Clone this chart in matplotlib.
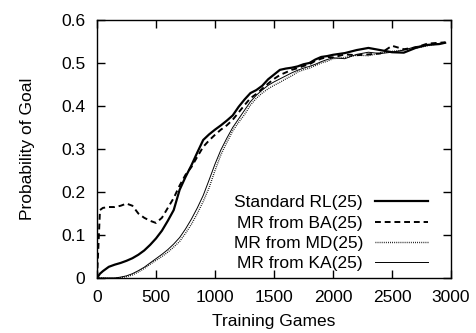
import matplotlib
matplotlib.use('Agg')
import matplotlib.pyplot as plt
from matplotlib import ticker

plt.rcParams['font.family'] = ['Liberation Sans', 'DejaVu Sans']
plt.rcParams['font.size'] = 12.5

games = [0, 25, 50, 100, 150, 200, 250, 300, 350, 400, 450, 500, 550, 600, 650, 700,
         750, 800, 850, 900, 950, 1000, 1050, 1100, 1150, 1200, 1250, 1300, 1350, 1400,
         1450, 1500, 1550, 1600, 1650, 1700, 1750, 1800, 1850, 1900, 1950, 2000, 2100,
         2200, 2300, 2400, 2500, 2600, 2700, 2800, 2900, 2950]

standard_rl = [0.0, 0.010, 0.016, 0.026, 0.031, 0.035, 0.040, 0.046, 0.054, 0.064, 0.077,
               0.092, 0.110, 0.133, 0.158, 0.205, 0.235, 0.262, 0.292, 0.321, 0.334, 0.345,
               0.355, 0.366, 0.378, 0.398, 0.415, 0.430, 0.437, 0.447, 0.462, 0.473, 0.484,
               0.487, 0.489, 0.492, 0.497, 0.500, 0.508, 0.514, 0.516, 0.519, 0.523, 0.530,
               0.535, 0.530, 0.525, 0.524, 0.535, 0.542, 0.544, 0.547]

mr_ba = [0.0, 0.158, 0.163, 0.165, 0.165, 0.168, 0.173, 0.168, 0.150, 0.140, 0.133,
         0.128, 0.140, 0.163, 0.186, 0.215, 0.240, 0.258, 0.282, 0.305, 0.320, 0.333,
         0.345, 0.355, 0.368, 0.385, 0.402, 0.418, 0.428, 0.440, 0.452, 0.463, 0.472,
         0.478, 0.484, 0.488, 0.493, 0.497, 0.505, 0.510, 0.514, 0.513, 0.520, 0.518,
         0.520, 0.522, 0.540, 0.532, 0.536, 0.545, 0.547, 0.548]

mr_md = [0.0, 0.0, 0.0, 0.0, 0.0, 0.001, 0.003, 0.007, 0.014, 0.022, 0.032, 0.041, 0.050,
         0.060, 0.072, 0.085, 0.104, 0.125, 0.150, 0.178, 0.210, 0.250, 0.287, 0.315,
         0.342, 0.362, 0.380, 0.402, 0.418, 0.430, 0.440, 0.448, 0.455, 0.463, 0.470,
         0.479, 0.484, 0.488, 0.494, 0.500, 0.504, 0.510, 0.513, 0.518, 0.517, 0.523,
         0.527, 0.530, 0.535, 0.540, 0.545, 0.546]

mr_ka = [0.0, 0.0, 0.0, 0.0, 0.0, 0.002, 0.005, 0.010, 0.017, 0.025, 0.035, 0.045, 0.055,
         0.066, 0.079, 0.094, 0.114, 0.137, 0.163, 0.192, 0.228, 0.265, 0.298, 0.325,
         0.350, 0.370, 0.390, 0.410, 0.425, 0.437, 0.448, 0.456, 0.463, 0.470, 0.477,
         0.483, 0.488, 0.492, 0.497, 0.503, 0.508, 0.512, 0.510, 0.520, 0.525, 0.522,
         0.525, 0.530, 0.538, 0.542, 0.545, 0.547]

labels = ['Standard RL(25)', 'MR from BA(25)', 'MR from MD(25)', 'MR from KA(25)']

fig = plt.figure(figsize=(4.77, 3.33), dpi=100)
ax = fig.add_axes([0.2034, 0.1652, 0.7421, 0.7748])

ax.plot(games, standard_rl, color='black', lw=1.6, ls='-', label=labels[0])
ax.plot(games, mr_ba, color='black', lw=1.4, ls=(0, (3, 2)), label=labels[1])
ax.plot(games, mr_md, color='black', lw=1.0, ls=(0, (0.6, 0.9)), label=labels[2])
ax.plot(games, mr_ka, color='black', lw=0.7, ls='-', label=labels[3])

ax.set_xlim(0, 3000)
ax.set_ylim(0, 0.6)
ax.set_xticks(range(0, 3001, 500))
ax.set_yticks([0, 0.1, 0.2, 0.3, 0.4, 0.5, 0.6])
ax.yaxis.set_major_formatter(ticker.FormatStrFormatter('%g'))
ax.tick_params(direction='in', top=True, right=True, length=6, width=1)
ax.tick_params(axis='x', pad=9)
ax.tick_params(axis='y', pad=8.5)
for s in ax.spines.values():
    s.set_linewidth(1.0)

ax.set_xlabel('Training Games', labelpad=6)
ax.set_ylabel('Probability of Goal', labelpad=18.5)

ax.legend(loc='lower right', bbox_to_anchor=(0.935, 0.027), frameon=False,
          markerfirst=False, handlelength=3.05, handletextpad=0.7,
          labelspacing=0.29, borderpad=0, borderaxespad=0)

fig.savefig('out.png', dpi=100)
